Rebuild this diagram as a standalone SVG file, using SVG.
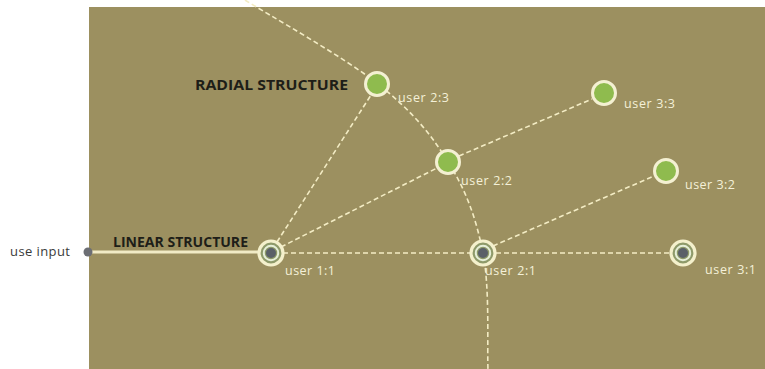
<svg xmlns="http://www.w3.org/2000/svg" width="765" height="369" viewBox="0 0 765 369">
<style>
.dash{fill:none;stroke:#f3ecc4;stroke-width:1.6;stroke-dasharray:5 3}
.title{font-family:"Open Sans","Liberation Sans",sans-serif;font-weight:bold;font-size:14.5px;fill:#1e1e18}
.lbl{font-family:"Open Sans","Liberation Sans",sans-serif;font-size:12.5px;fill:#f4f0d8}
.green{fill:#8fbb4e;stroke:#f4f0d2;stroke-width:3}
</style>
<defs>
<g id="ring">
<circle r="12" fill="#8e9a6a" stroke="#f4f0cc" stroke-width="3.2"/>
<circle r="7.2" fill="none" stroke="#e6efd8" stroke-width="2"/>
<circle r="5" fill="#5a6068"/>
</g>
</defs>
<rect x="0" y="0" width="765" height="369" fill="#ffffff"/>
<rect x="89" y="7" width="676" height="362" fill="#9c9060"/>
<g id="connectors">
<path class="dash" d="M245,0 C267,14 344,57 378,84 C412,111 431,134 448,162 C466,190 476,218 483,253 C490,288 487,350 488,369"/>
<line x1="92" y1="252" x2="258" y2="252" stroke="#f1ebc6" stroke-width="3"/>
<line class="dash" x1="283" y1="253" x2="470" y2="253"/>
<line class="dash" x1="496" y1="253" x2="670" y2="253"/>
<line class="dash" x1="277" y1="242" x2="371" y2="95"/>
<line class="dash" x1="281" y1="247" x2="437" y2="168"/>
<line class="dash" x1="459" y1="156" x2="592" y2="99"/>
<line class="dash" x1="493" y1="246" x2="654" y2="176"/>
</g>
<g id="use-input">
<circle cx="88" cy="252" r="4.5" fill="#6c6e74"/>
<text x="10" y="256" textLength="60" style="font-family:'Open Sans','Liberation Sans',sans-serif;font-size:13px;fill:#3a3a3a">use input</text>
</g>
<g id="label-radial"><text class="title" x="195" y="90" textLength="153" lengthAdjust="spacingAndGlyphs">RADIAL STRUCTURE</text></g>
<g id="label-linear"><text class="title" x="113" y="247" textLength="135" lengthAdjust="spacingAndGlyphs">LINEAR STRUCTURE</text></g>
<g id="user-1-1"><use href="#ring" x="271" y="253"/><text class="lbl" x="285" y="275" textLength="50">user 1:1</text></g>
<g id="user-2-1"><use href="#ring" x="483" y="253"/><text class="lbl" x="485" y="275" textLength="51">user 2:1</text></g>
<g id="user-3-1"><use href="#ring" x="683" y="253"/><text class="lbl" x="705" y="274" textLength="51">user 3:1</text></g>
<g id="user-2-3"><circle class="green" cx="377" cy="84" r="11.5"/><text class="lbl" x="398" y="102" textLength="51">user 2:3</text></g>
<g id="user-2-2"><circle class="green" cx="448" cy="162" r="11.5"/><text class="lbl" x="461" y="185" textLength="51">user 2:2</text></g>
<g id="user-3-3"><circle class="green" cx="604" cy="93" r="11.5"/><text class="lbl" x="624" y="108" textLength="51">user 3:3</text></g>
<g id="user-3-2"><circle class="green" cx="666" cy="171" r="11.5"/><text class="lbl" x="685" y="189" textLength="50">user 3:2</text></g>
</svg>
